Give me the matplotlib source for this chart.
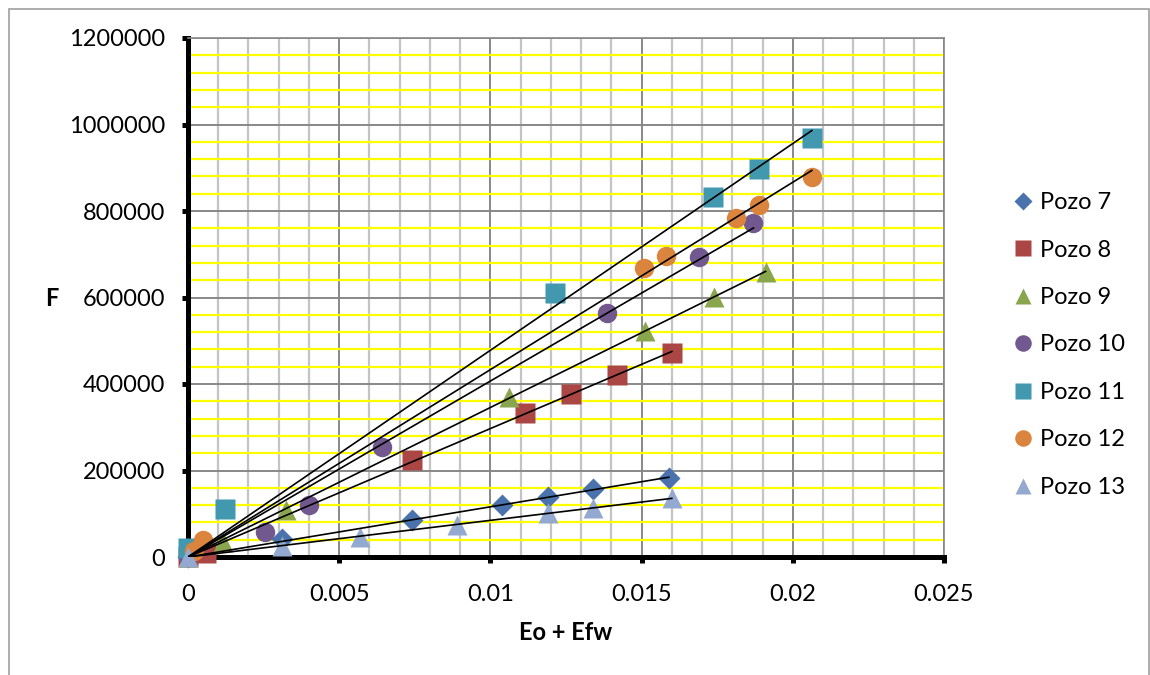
import matplotlib.pyplot as plt
import numpy as np
from matplotlib.patches import Rectangle
from matplotlib.lines import Line2D

plt.rcParams['font.family'] = ['Lato', 'DejaVu Sans']

# datos (Eo + Efw, F)
pozo7_x = [0, 0.0031, 0.0074, 0.0104, 0.0119, 0.0134, 0.0159]
pozo7_y = [0, 42000, 85000, 120000, 138000, 158000, 182000]
pozo8_x = [0, 0.0006, 0.0074, 0.01115, 0.01266, 0.0142, 0.0160]
pozo8_y = [0, 9000, 224000, 333000, 377000, 421000, 472000]
pozo9_x = [0, 0.00115, 0.00325, 0.0106, 0.0151, 0.0174, 0.0191]
pozo9_y = [0, 35000, 109000, 370000, 523000, 601000, 659000]
pozo10_x = [0, 0.00253, 0.0040, 0.0064, 0.01385, 0.0169, 0.0187]
pozo10_y = [0, 58000, 120000, 254000, 564000, 694000, 772000]
pozo11_x = [0, 0.00122, 0.01214, 0.01737, 0.01888, 0.02063]
pozo11_y = [20000, 111000, 610000, 832000, 897000, 969000]
pozo12_x = [0.0002, 0.0005, 0.01507, 0.01582, 0.01813, 0.01888, 0.02063]
pozo12_y = [15000, 40000, 668000, 696000, 784000, 814000, 879000]
pozo13_x = [0, 0.0031, 0.0057, 0.0089, 0.0119, 0.0134, 0.0160]
pozo13_y = [0, 25000, 46000, 74000, 102000, 113000, 137000]

labels = ['Pozo 7', 'Pozo 8', 'Pozo 9', 'Pozo 10', 'Pozo 11', 'Pozo 12', 'Pozo 13']
xs = [pozo7_x, pozo8_x, pozo9_x, pozo10_x, pozo11_x, pozo12_x, pozo13_x]
ys = [pozo7_y, pozo8_y, pozo9_y, pozo10_y, pozo11_y, pozo12_y, pozo13_y]

colores = ['#4A73AE', '#AA4643', '#89A54E', '#71588F', '#4198AF', '#DB843D', '#93A9CF']
marcadores = ['D', 's', '^', 'o', 's', 'o', '^']
tamanos = [11, 14, 14, 14, 14, 14, 14]

fig = plt.figure(figsize=(11.5, 6.75), dpi=100)
ax = fig.add_axes([188 / 1150, 1 - 557 / 675, (944 - 188) / 1150, (557 - 38) / 675])

handles = []
for x, y, lab, c, m, s in zip(xs, ys, labels, colores, marcadores, tamanos):
    x = np.array(x)
    y = np.array(y)
    ax.plot(x, y, linestyle='none', marker=m, markersize=s, color=c,
            markeredgecolor='none', zorder=3, clip_on=False)
    # linea de tendencia lineal con intercepto 0
    pendiente = np.sum(x * y) / np.sum(x * x)
    xl = np.array([0, x.max()])
    ax.plot(xl, pendiente * xl, color='black', linewidth=1.2, zorder=4)
    handles.append(Line2D([], [], linestyle='none', marker=m, markersize=s * 0.85,
                          color=c, markeredgecolor='none', label=lab))

ax.set_xlim(0, 0.025)
ax.set_ylim(0, 1200000)
ax.set_xticks(np.arange(0, 0.0251, 0.005))
ax.set_xticks(np.arange(0, 0.0251, 0.001), minor=True)
ax.set_yticks(np.arange(0, 1200001, 200000))
ax.set_yticks(np.arange(0, 1200001, 40000), minor=True)
ax.set_xticklabels(['0', '0.005', '0.01', '0.015', '0.02', '0.025'])
ax.set_yticklabels([str(v) for v in range(0, 1200001, 200000)])

ax.set_axisbelow(True)
ax.grid(which='minor', axis='y', color='#FFFF00', linewidth=1.6)
ax.grid(which='minor', axis='x', color='#C4C4C4', linewidth=1.6)
ax.grid(which='major', color='#888888', linewidth=1.4)

for lado in ['left', 'bottom']:
    ax.spines[lado].set_linewidth(3.6)
    ax.spines[lado].set_color('black')
for lado in ['top', 'right']:
    ax.spines[lado].set_linewidth(1.2)
    ax.spines[lado].set_color('#888888')

ax.tick_params(which='minor', length=0)
ax.tick_params(which='major', direction='out', length=4.5, width=3.6, labelsize=17)
ax.tick_params(axis='y', which='major', pad=12)
ax.tick_params(axis='x', which='major', pad=15)

fig.text(52 / 1150, 1 - 298 / 675, 'F', fontsize=17, fontweight='bold',
         ha='center', va='center')
fig.text(566 / 1150, 1 - 633 / 675, 'Eo + Efw', fontsize=17, fontweight='bold',
         ha='center', va='center')

fig.legend(handles=handles, loc='center left', bbox_to_anchor=(1014 / 1150, 1 - 345 / 675),
           frameon=False, fontsize=17, handlelength=0.8, handletextpad=0.3,
           labelspacing=1.12, borderpad=0, borderaxespad=0)

# borde del area del grafico
fig.patches.append(Rectangle((9 / 1150, -0.05), 1140 / 1150, 1.05 - 9 / 675,
                             transform=fig.transFigure, fill=False,
                             edgecolor='#A0A0A0', linewidth=1.2))

plt.savefig('out.png', dpi=100)
